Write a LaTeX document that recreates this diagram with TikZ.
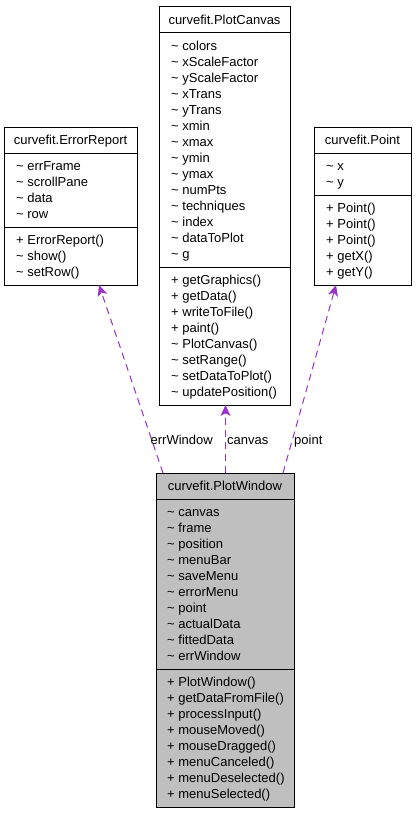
\documentclass[tikz,border=0pt]{standalone}
\usepackage{fontspec}
\setmainfont{Liberation Sans}
\usetikzlibrary{arrows.meta}
\definecolor{depc}{RGB}{154,50,205}
\definecolor{hlgray}{RGB}{191,191,191}
\newcommand\tld{\textasciitilde\ }
\begin{document}
\begin{tikzpicture}[x=1pt,y=-1pt,font=\fontsize{13}{15}\selectfont,
  box/.style={draw=black,line width=1pt,fill=white,inner sep=0pt,outer sep=0pt},
  ttl/.style={anchor=base,inner sep=0pt},
  mem/.style={anchor=base west,inner sep=0pt},
  sepl/.style={line width=1pt,draw=black},
  depline/.style={draw=depc,line width=1pt,dash pattern=on 7pt off 5pt,
    -{Stealth[length=11pt,width=10pt,inset=3pt]}},
  lbl/.style={inner sep=0pt}]
\path[use as bounding box] (0,0) rectangle (416,816);

% ErrorReport
\node[box,minimum width=133pt,minimum height=158pt] (er) at (70.5,206) {};
\node[ttl] (er-t) at (70.5,144.5) {curvefit.ErrorReport};
\draw[sepl] (4,153) -- (137,153);
\draw[sepl] (4,227) -- (137,227);
\foreach [count=\i from 0] \t in {\tld errFrame,\tld scrollPane,\tld data,\tld row}
  \node[mem] (er-a\i) at (16,{170.5+16*\i}) {\t};
\foreach [count=\i from 0] \t in {+ ErrorReport(),\tld show(),\tld setRow()}
  \node[mem] (er-m\i) at (16,{244.5+16*\i}) {\t};

% PlotCanvas
\node[box,minimum width=131pt,minimum height=398pt] (pc) at (224.5,206) {};
\node[ttl] (pc-t) at (224.5,24.5) {curvefit.PlotCanvas};
\draw[sepl] (159,33) -- (290,33);
\draw[sepl] (159,267) -- (290,267);
\foreach [count=\i from 0] \t in {\tld colors,\tld xScaleFactor,\tld yScaleFactor,\tld xTrans,\tld yTrans,\tld xmin,\tld xmax,\tld ymin,\tld ymax,\tld numPts,\tld techniques,\tld index,\tld dataToPlot,\tld g}
  \node[mem] (pc-a\i) at (171,{50.5+16*\i}) {\t};
\foreach [count=\i from 0] \t in {+ getGraphics(),+ getData(),+ writeToFile(),+ paint(),\tld PlotCanvas(),\tld setRange(),\tld setDataToPlot(),\tld updatePosition()}
  \node[mem] (pc-m\i) at (171,{284.5+16*\i}) {\t};

% Point
\node[box,minimum width=97pt,minimum height=158pt] (pt) at (362.5,206) {};
\node[ttl] (pt-t) at (362.5,144.5) {curvefit.Point};
\draw[sepl] (314,153) -- (411,153);
\draw[sepl] (314,195) -- (411,195);
\foreach [count=\i from 0] \t in {\tld x,\tld y}
  \node[mem] (pt-a\i) at (326,{170.5+16*\i}) {\t};
\foreach [count=\i from 0] \t in {+ Point(),+ Point(),+ Point(),+ getX(),+ getY()}
  \node[mem] (pt-m\i) at (326,{212.5+16*\i}) {\t};

% PlotWindow
\node[box,fill=hlgray,minimum width=138pt,minimum height=334pt] (pw) at (225,640) {};
\node[ttl] (pw-t) at (225,490.5) {curvefit.PlotWindow};
\draw[sepl] (156,499) -- (294,499);
\draw[sepl] (156,669) -- (294,669);
\foreach [count=\i from 0] \t in {\tld canvas,\tld frame,\tld position,\tld menuBar,\tld saveMenu,\tld errorMenu,\tld point,\tld actualData,\tld fittedData,\tld errWindow}
  \node[mem] (pw-a\i) at (167,{516.5+16*\i}) {\t};
\foreach [count=\i from 0] \t in {+ PlotWindow(),+ getDataFromFile(),+ processInput(),+ mouseMoved(),+ mouseDragged(),+ menuCanceled(),+ menuDeselected(),+ menuSelected()}
  \node[mem] (pw-m\i) at (167,{686.5+16*\i}) {\t};

% dependencies
\draw[depline] ([xshift=7pt]pw.north west) -- ([xshift=95pt]er.south west);
\draw[depline] ([xshift=0.5pt]pw.north) -- ([xshift=0.5pt]pw.north |- pc.south);
\draw[depline] ([xshift=-11pt]pw.north east) -- ([xshift=22pt]pt.south west);
\node[lbl,anchor=base east] (l-err) at (213,444.5) {errWindow};
\node[lbl,anchor=base west] (l-can) at (227,444.5) {canvas};
\node[lbl,anchor=base west] (l-pt) at (294,444.5) {point};
\end{tikzpicture}
\end{document}
